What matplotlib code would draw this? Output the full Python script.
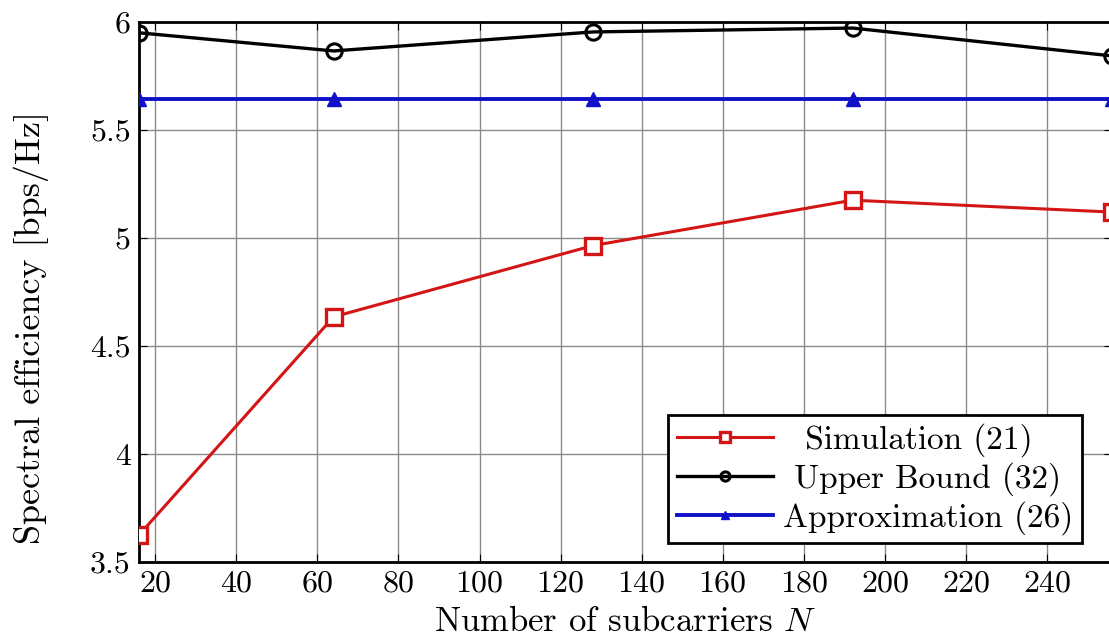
import numpy as np
import matplotlib
matplotlib.use("Agg")
import matplotlib.pyplot as plt

plt.rcParams['font.family'] = 'serif'
plt.rcParams['font.serif'] = ['cmr10']
plt.rcParams['mathtext.fontset'] = 'cm'
plt.rcParams['axes.formatter.use_mathtext'] = True

# データ
n_sub = [16, 64, 128, 192, 256]
simulation = [3.625, 4.635, 4.965, 5.175, 5.12]
upper_bound = [5.95, 5.866, 5.954, 5.972, 5.843]
approximation = [5.644, 5.644, 5.644, 5.644, 5.644]

labels = ["  Simulation (21)", " Upper Bound (32)", "Approximation (26)"]
x_ticks = np.arange(20, 260, 20)
y_ticks = [3.5, 4, 4.5, 5, 5.5, 6]

fig = plt.figure(figsize=(11.09, 6.37), dpi=100)
ax = fig.add_axes([139 / 1109, 1 - 562 / 637, (1112 - 139) / 1109, (562 - 22) / 637])

ax.plot(n_sub, simulation, color='#d41515', lw=2.2, marker='s', markersize=12,
        markerfacecolor='white', markeredgewidth=2.4, label=labels[0], zorder=3)
ax.plot(n_sub, upper_bound, color='black', lw=2.4, marker='o', markersize=11,
        markerfacecolor='none', markeredgewidth=2.2, label=labels[1], zorder=3)
ax.plot(n_sub, approximation, color='#1010c8', lw=2.8, marker='^', markersize=10,
        label=labels[2], zorder=3)

ax.set_xlim(16, 256)
ax.set_ylim(3.5, 6)
ax.set_xticks(x_ticks)
ax.set_yticks(y_ticks)
ax.set_yticklabels(["3.5", "4", "4.5", "5", "5.5", "6"])
ax.tick_params(direction='in', top=True, right=True, labelsize=23, length=6, pad=6)

ax.grid(True, color='#8a8a8a', linewidth=1)
for s in ax.spines.values():
    s.set_linewidth(2)

ax.set_xlabel("Number of subcarriers $N$", fontsize=25, labelpad=6)
ax.set_ylabel("Spectral efficiency [bps/Hz]", fontsize=26)
ax.yaxis.set_label_coords(-0.092, 0.435)

leg = ax.legend(loc='lower right', fontsize=24, fancybox=False, edgecolor='black',
                framealpha=1, markerscale=0.6, handlelength=2.9, borderpad=0.25,
                labelspacing=0.15, handletextpad=0.3, borderaxespad=0,
                bbox_to_anchor=(0.969, 0.035))
leg.get_frame().set_linewidth(2)

fig.savefig("out.png", dpi=100)
